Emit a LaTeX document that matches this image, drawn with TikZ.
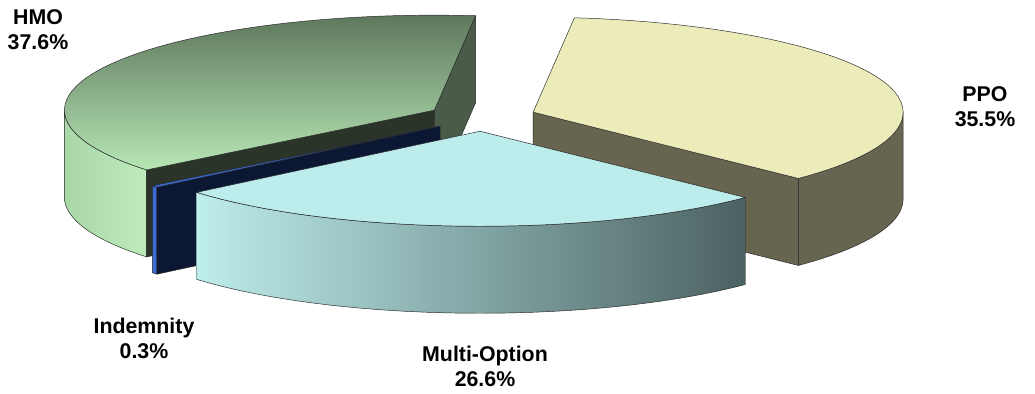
\documentclass[tikz,border=0pt]{standalone}
\usepackage{fontspec}
\setmainfont{Liberation Sans}
\definecolor{hmoLight}{HTML}{B7E7B5}
\definecolor{hmoDark}{HTML}{5B745A}
\definecolor{hmoWallA}{HTML}{AAD7A8}
\definecolor{hmoWallB}{HTML}{BDEBBC}
\definecolor{hmoCut}{HTML}{2A3428}
\definecolor{hmoSide}{HTML}{4A5C49}
\definecolor{ppoTop}{HTML}{ECEBBA}
\definecolor{ppoSide}{HTML}{67654F}
\definecolor{indFace}{HTML}{0B1733}
\definecolor{indEdge}{HTML}{3A6BD6}
\definecolor{mulTop}{HTML}{BCECEC}
\definecolor{mulLight}{HTML}{BDEDEC}
\definecolor{mulMid}{HTML}{97BDBC}
\definecolor{mulDark}{HTML}{4B6161}

\begin{document}
\begin{tikzpicture}[x=0.75pt,y=0.75pt,x radius=370,y radius=95,
  facet/.style={draw=black!85,line width=0.35pt,line join=round},
  pielabel/.style={inner sep=0.75pt,align=center,font=\fontsize{16}{18.75}\selectfont\bfseries}]
\useasboundingbox (-482,-276) rectangle (553,117);
% exploded slice centres
\coordinate (hmoC) at (151.3:54.3 and 14.25);
\coordinate (ppoC) at (19.7:54.3 and 14.25);
\coordinate (indC) at (219.5:54.3 and 14.25);
\coordinate (mulC) at (267.9:54.3 and 14.25);
% HMO
\begin{scope}[shift={(hmoC)}]
  \draw[facet,left color=hmoWallA,right color=hmoWallB] (180:370 and 95) arc[start angle=180,end angle=218.96] -- ++(0,-87) arc[start angle=218.96,end angle=180] -- cycle;
  \draw[facet,fill=hmoCut] (0,0) -- (218.96:370 and 95) -- ++(0,-87) -- (0,-87) -- cycle;
  \draw[facet,fill=hmoSide] (0,0) -- (83.6:370 and 95) -- ++(0,-87) -- (0,-87) -- cycle;
  \draw[facet,top color=hmoDark,bottom color=hmoLight] (0,0) -- (83.6:370 and 95) arc[start angle=83.6,end angle=218.96] -- cycle;
\end{scope}
% PPO
\begin{scope}[shift={(ppoC)}]
  \draw[facet,fill=ppoSide] (-44.2:370 and 95) arc[start angle=-44.2,end angle=0] -- ++(0,-87) arc[start angle=0,end angle=-44.2] -- cycle;
  \draw[facet,fill=ppoSide] (0,0) -- (-44.2:370 and 95) -- ++(0,-87) -- (0,-87) -- cycle;
  \draw[facet,fill=ppoTop] (0,0) -- (-44.2:370 and 95) arc[start angle=-44.2,end angle=83.6] -- cycle;
\end{scope}
% Indemnity
\begin{scope}[shift={(indC)}]
  \draw[facet,fill=indEdge] (218.96:370 and 95) arc[start angle=218.96,end angle=220.04] -- ++(0,-87) arc[start angle=220.04,end angle=218.96] -- cycle;
  \draw[facet,fill=indFace] (0,0) -- (220.04:370 and 95) -- ++(0,-87) -- (0,-87) -- cycle;
  \draw[facet,fill=indEdge] (0,0) -- (218.96:370 and 95) arc[start angle=218.96,end angle=220.04] -- cycle;
\end{scope}
% Multi-Option
\begin{scope}[shift={(mulC)}]
  \draw[facet,left color=mulLight,middle color=mulMid,right color=mulDark] (220.04:370 and 95) arc[start angle=220.04,end angle=315.8] -- ++(0,-87) arc[start angle=315.8,end angle=220.04] -- cycle;
  \draw[facet,fill=mulTop] (0,0) -- (220.04:370 and 95) arc[start angle=220.04,end angle=315.8] -- cycle;
\end{scope}
% labels
\draw (-444,87) node (hmoLabel) [pielabel] {HMO\\37.6\%};
\draw (503,10) node (ppoLabel) [pielabel] {PPO\\35.5\%};
\draw (-338,-221) node (indLabel) [pielabel] {Indemnity\\0.3\%};
\draw (3,-249) node (mulLabel) [pielabel] {Multi-Option\\26.6\%};
\end{tikzpicture}
\end{document}
